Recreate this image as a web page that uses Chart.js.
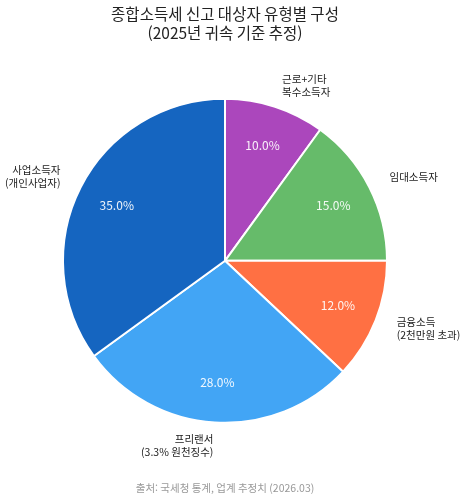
<!DOCTYPE html>
<html lang="ko">
<head>
    <meta charset="UTF-8" />
    <title>종합소득세 신고 대상자 유형별 구성</title>
    <script src="https://cdn.jsdelivr.net/npm/chart.js@4"></script>
    <style>
        html, body { margin: 0; padding: 0; background: #fff; }
        #wrap { width: 467px; height: 500px; }
    </style>
</head>
<body>
    <div id="wrap"><canvas id="pieChart" width="467" height="500"></canvas></div>

    <script>
        // 데이터 (위쪽에서 시계 방향)
        const labels = ['근로+기타\n복수소득자', '임대소득자', '금융소득\n(2천만원 초과)', '프리랜서\n(3.3% 원천징수)', '사업소득자\n(개인사업자)'];
        const shares = [10.0, 15.0, 12.0, 28.0, 35.0];
        const colors = ['#AB47BC', '#66BB6A', '#FF7043', '#42A5F5', '#1565C0'];

        const FONT = "'Noto Sans CJK KR', 'Noto Sans', sans-serif";

        // 조각 라벨 + 퍼센트 표시
        const sliceLabels = {
            id: 'sliceLabels',
            afterDatasetsDraw(chart) {
                const ctx = chart.ctx;
                const arcs = chart.getDatasetMeta(0).data;
                ctx.save();
                arcs.forEach((arc, i) => {
                    const mid = (arc.startAngle + arc.endAngle) / 2;
                    const r = arc.outerRadius;
                    const cx = Math.cos(mid), cy = Math.sin(mid);

                    // 퍼센트
                    ctx.font = '12px ' + FONT;
                    ctx.fillStyle = 'rgba(255,255,255,0.92)';
                    ctx.textAlign = 'center';
                    ctx.textBaseline = 'middle';
                    ctx.fillText(shares[i].toFixed(1) + '%', arc.x + cx * r * 0.75, arc.y + cy * r * 0.75);

                    // 바깥 라벨
                    const lines = labels[i].split('\n');
                    const lx = arc.x + cx * r * 1.14;
                    const ly = arc.y + cy * r * 1.14;
                    const lh = 13;
                    ctx.font = '10.5px ' + FONT;
                    ctx.fillStyle = '#222';
                    ctx.textAlign = cx >= 0 ? 'left' : 'right';
                    lines.forEach((t, k) => {
                        ctx.fillText(t, lx, ly + (k - (lines.length - 1) / 2) * lh);
                    });
                });
                ctx.restore();
            }
        };

        new Chart(document.getElementById('pieChart'), {
            type: 'pie',
            data: {
                labels: labels,
                datasets: [{
                    data: shares,
                    backgroundColor: colors,
                    borderColor: '#ffffff',
                    borderWidth: 2
                }]
            },
            options: {
                responsive: false,
                animation: false,
                layout: { padding: { left: 62, right: 79, top: 0, bottom: 0 } },
                plugins: {
                    legend: { display: false },
                    tooltip: { enabled: false },
                    title: {
                        display: true,
                        text: ['종합소득세 신고 대상자 유형별 구성', '(2025년 귀속 기준 추정)'],
                        color: '#222',
                        font: { family: FONT, size: 15.5, weight: 'normal', lineHeight: 1.2 },
                        padding: { top: 5, bottom: 55 }
                    },
                    subtitle: {
                        display: true,
                        position: 'bottom',
                        text: '출처: 국세청 통계, 업계 추정치 (2026.03)',
                        color: '#999',
                        font: { family: FONT, size: 10.5, weight: 'normal', lineHeight: 1.2 },
                        padding: { top: 57, bottom: 6 }
                    }
                }
            },
            plugins: [sliceLabels]
        });
    </script>
</body>
</html>
